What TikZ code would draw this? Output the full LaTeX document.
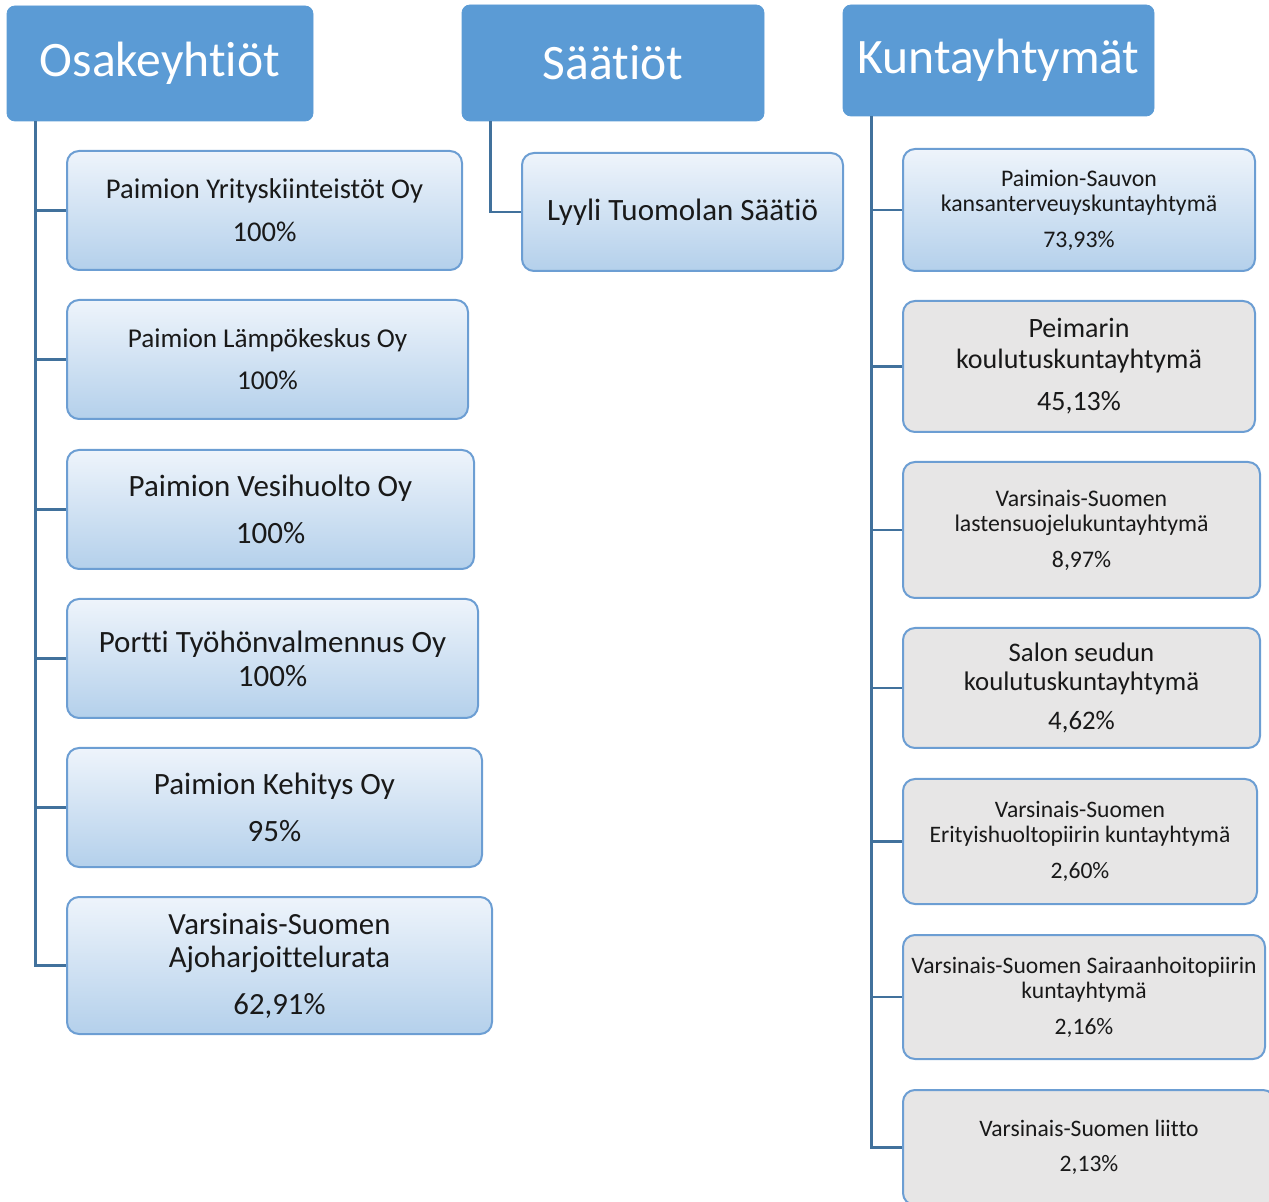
\documentclass[tikz,border=0pt]{standalone}
\usepackage{fontspec}
\setmainfont[RawFeature={-liga;-clig;-dlig;-calt}]{Carlito}

\definecolor{headblue}{RGB}{91,155,213}
\definecolor{edgeblue}{RGB}{108,158,211}
\definecolor{linkblue}{RGB}{65,113,156}
\definecolor{paleblue}{RGB}{238,244,251}
\definecolor{midblue}{RGB}{180,208,235}
\definecolor{boxgray}{RGB}{231,230,230}

\begin{document}
\begin{tikzpicture}[x=0.5pt, y=-0.5pt,
        head/.style={draw=headblue, fill=headblue, rounded corners=4pt, text=white,
            inner sep=0pt, font=\fontsize{24.8}{28}\selectfont},
        unitbox/.style={draw=edgeblue, line width=1pt, rounded corners=6pt,
            inner sep=0pt, align=center, text=black!90},
        blueunit/.style={unitbox, top color=paleblue, bottom color=midblue},
        grayunit/.style={unitbox, fill=boxgray},
        link/.style={draw=linkblue, line width=1.2pt},
    ]
    \useasboundingbox (0,0) rectangle (1269,1202);
    \clip (0,0) rectangle (1269,1202);

    % headers
    \node[head, minimum width=153pt, minimum height=57.5pt] (osa) at (160,63.5) {Osakeyhtiöt};
    \node[head, minimum width=151pt, minimum height=58pt] (saa) at (613,63) {Säätiöt};
    \node[head, minimum width=155.5pt, minimum height=55.5pt] (kun) at (998.5,60.5) {Kuntayhtymät};

    % osakeyhtiöt
    \node[blueunit, minimum width=197.5pt, minimum height=59.5pt, font=\fontsize{14.3}{16}\selectfont]
        (oy1) at (264.5,210.5) {Paimion Yrityskiinteistöt Oy\\[5.5pt]100\%};
    \node[blueunit, minimum width=200.5pt, minimum height=59.5pt, font=\fontsize{13.6}{14.5}\selectfont]
        (oy2) at (267.5,359.5) {Paimion Lämpökeskus Oy\\[6.5pt]100\%};
    \node[blueunit, minimum width=203.5pt, minimum height=59.5pt, font=\fontsize{15.5}{17}\selectfont]
        (oy3) at (270.5,509.5) {Paimion Vesihuolto Oy\\[6.5pt]100\%};
    \node[blueunit, minimum width=205.5pt, minimum height=59.5pt, font=\fontsize{15.5}{17}\selectfont]
        (oy4) at (272.5,658.5) {Portti Työhönvalmennus Oy\\100\%};
    \node[blueunit, minimum width=207.5pt, minimum height=59.5pt, font=\fontsize{15.5}{17}\selectfont]
        (oy5) at (274.5,807.5) {Paimion Kehitys Oy\\[6.5pt]95\%};
    \node[blueunit, minimum width=212.5pt, minimum height=68.5pt, font=\fontsize{15.4}{16.5}\selectfont]
        (oy6) at (279.5,965.5) {Varsinais-Suomen\\Ajoharjoittelurata\\[7pt]62,91\%};

    % säätiöt
    \node[blueunit, minimum width=160.5pt, minimum height=59pt, font=\fontsize{15.5}{17}\selectfont]
        (sa1) at (682.5,212) {Lyyli Tuomolan Säätiö};

    % kuntayhtymät
    \node[blueunit, minimum width=176pt, minimum height=61pt, font=\fontsize{11.9}{12.5}\selectfont]
        (ky1) at (1079,210) {Paimion-Sauvon\\kansanterveuyskuntayhtymä\\[5.5pt]73,93\%};
    \node[grayunit, minimum width=176pt, minimum height=65.5pt, font=\fontsize{14}{15.5}\selectfont]
        (ky2) at (1079,366.5) {Peimarin\\koulutuskuntayhtymä\\[5.5pt]45,13\%};
    \node[grayunit, minimum width=178.5pt, minimum height=68pt, font=\fontsize{11.9}{12.5}\selectfont]
        (ky3) at (1081.5,530) {Varsinais-Suomen\\lastensuojelukuntayhtymä\\[5.5pt]8,97\%};
    \node[grayunit, minimum width=178.5pt, minimum height=60pt, font=\fontsize{13.4}{14.5}\selectfont]
        (ky4) at (1081.5,688) {Salon seudun\\koulutuskuntayhtymä\\[5pt]4,62\%};
    \node[grayunit, minimum width=177pt, minimum height=62.5pt, font=\fontsize{11.8}{12.5}\selectfont]
        (ky5) at (1080,841.5) {Varsinais-Suomen\\Erityishuoltopiirin kuntayhtymä\\[5.5pt]2,60\%};
    \node[grayunit, minimum width=181pt, minimum height=62pt, font=\fontsize{11.8}{12.5}\selectfont]
        (ky6) at (1084,997) {Varsinais-Suomen Sairaanhoitopiirin\\kuntayhtymä\\[5.5pt]2,16\%};
    \node[grayunit, minimum width=186pt, minimum height=57.5pt, font=\fontsize{11.8}{12.5}\selectfont]
        (ky7) at (1089,1147.5) {Varsinais-Suomen liitto\\[5pt]2,13\%};

    % connectors
    \foreach \b in {oy1,oy2,oy3,oy4,oy5,oy6}
        \draw[link] ([xshift=14.5pt]osa.south west) |- (\b.west);
    \draw[link] ([xshift=14.5pt]saa.south west) |- (sa1.west);
    \foreach \b in {ky1,ky2,ky3,ky4,ky5,ky6,ky7}
        \draw[link] ([xshift=14.5pt]kun.south west) |- (\b.west);
\end{tikzpicture}
\end{document}
